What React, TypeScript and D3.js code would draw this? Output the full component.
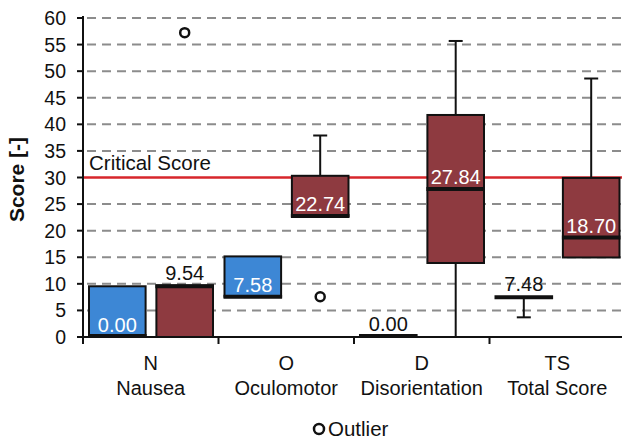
import React from "react";
import * as d3 from "d3";

const categories = ["N", "O", "D", "TS"];
const categoryNames = ["Nausea", "Oculomotor", "Disorientation", "Total Score"];
const groups = ["g1", "g2"];
const groupColors = ["#3d87d5", "#8e3a40"];

// group 1 (blue)
const g1Q1 = [0, 7.58, 0, 7.48];
const g1Median = [0, 7.58, 0, 7.48];
const g1Q3 = [9.54, 15.16, 0, 7.48];
const g1WhiskerLow = [0, 7.58, 0, 3.7];
const g1WhiskerHigh = [9.54, 15.16, 0, 7.48];
const g1Outliers: number[][] = [[], [], [], []];

// group 2 (red)
const g2Q1 = [0, 22.74, 13.92, 14.96];
const g2Median = [9.54, 22.74, 27.84, 18.7];
const g2Q3 = [9.7, 30.32, 41.76, 29.92];
const g2WhiskerLow = [0, 22.74, 0, 14.96];
const g2WhiskerHigh = [9.7, 37.9, 55.68, 48.62];
const g2Outliers: number[][] = [[57.24], [7.58], [], []];

const yTicks = [0, 5, 10, 15, 20, 25, 30, 35, 40, 45, 50, 55, 60];
const criticalScore = 30;

const W = 622;
const H = 439;
const left = 83;
const right = 625;
const top = 18;
const bottom = 337;
const FONT = "Arial, 'Liberation Sans', Helvetica, sans-serif";

export default function App() {
  const y = d3.scaleLinear().domain([0, 60]).range([bottom, top]);
  const x = d3.scaleBand<string>().domain(categories).range([left, right]).padding(0);
  const sub = d3
    .scaleBand<string>()
    .domain(groups)
    .range([6, x.bandwidth() - 5.5])
    .paddingInner(0.16)
    .paddingOuter(0);
  const bw = sub.bandwidth();

  const series = [
    { q1: g1Q1, med: g1Median, q3: g1Q3, wl: g1WhiskerLow, wh: g1WhiskerHigh, out: g1Outliers },
    { q1: g2Q1, med: g2Median, q3: g2Q3, wl: g2WhiskerLow, wh: g2WhiskerHigh, out: g2Outliers },
  ];

  const boxes: React.ReactNode[] = [];
  const labels: React.ReactNode[] = [];
  series.forEach((s, gi) => {
    categories.forEach((c, ci) => {
      const x0 = (x(c) as number) + (sub(groups[gi]) as number);
      const cx = x0 + bw / 2;
      const q1 = s.q1[ci], q3 = s.q3[ci], med = s.med[ci];
      const wl = s.wl[ci], wh = s.wh[ci];
      const key = `${gi}-${ci}`;
      const capW = 14;
      if (wh > q3) {
        boxes.push(
          <g key={key + "wh"}>
            <line x1={cx} x2={cx} y1={y(q3)} y2={y(wh)} stroke="#111" strokeWidth={2} />
            <line x1={cx - capW / 2} x2={cx + capW / 2} y1={y(wh)} y2={y(wh)} stroke="#111" strokeWidth={2} />
          </g>
        );
      }
      if (wl < q1) {
        const hasCap = wl > 0;
        boxes.push(
          <g key={key + "wl"}>
            <line x1={cx} x2={cx} y1={y(q1)} y2={y(wl)} stroke="#111" strokeWidth={2} />
            {hasCap && (
              <line x1={cx - capW / 2} x2={cx + capW / 2} y1={y(wl)} y2={y(wl)} stroke="#111" strokeWidth={2} />
            )}
          </g>
        );
      }
      if (q3 > q1) {
        boxes.push(
          <rect
            key={key + "box"}
            x={x0}
            y={y(q3)}
            width={bw}
            height={y(q1) - y(q3)}
            fill={groupColors[gi]}
            stroke="#111"
            strokeWidth={2}
          />
        );
      }
      boxes.push(
        <line
          key={key + "med"}
          x1={x0 - 1}
          x2={x0 + bw + 1}
          y1={y(med) - (med === 0 ? 1 : 0)}
          y2={y(med) - (med === 0 ? 1 : 0)}
          stroke="#111"
          strokeWidth={4}
        />
      );
      s.out[ci].forEach((o, oi) => {
        boxes.push(
          <circle key={key + "o" + oi} cx={cx} cy={y(o)} r={4.5} fill="#fff" stroke="#111" strokeWidth={2.5} />
        );
      });
      const inside = q3 - med > 3;
      labels.push(
        <text
          key={key + "lab"}
          x={cx}
          y={y(med) - (inside ? 5 : 6)}
          textAnchor="middle"
          fontSize={20}
          fontFamily={FONT}
          fill={inside ? "#ffffff" : "#111"}
        >
          {med.toFixed(2)}
        </text>
      );
    });
  });

  return (
    <svg
      width={W}
      height={H}
      style={{ position: "absolute", left: 0, top: 0, background: "#fff" }}
      fontFamily={FONT}
    >
      <rect x={0} y={0} width={W} height={H} fill="#fff" />
      {yTicks
        .filter((t) => t > 0 && t !== criticalScore)
        .map((t) => (
          <line
            key={"g" + t}
            x1={left + 4}
            x2={right}
            y1={y(t)}
            y2={y(t)}
            stroke="#8c8c8c"
            strokeWidth={2}
            strokeDasharray="9,6"
          />
        ))}
      <line x1={left} x2={right} y1={y(criticalScore)} y2={y(criticalScore)} stroke="#d7262b" strokeWidth={2.5} />
      <text x={89} y={y(criticalScore) - 8} fontSize={20.5} fill="#111">
        Critical Score
      </text>
      {boxes}
      {labels}
      <line x1={left} x2={left} y1={top - 2} y2={bottom + 1} stroke="#111" strokeWidth={2} />
      <line x1={left - 1} x2={right} y1={bottom} y2={bottom} stroke="#111" strokeWidth={2} />
      {yTicks.map((t) => (
        <g key={"t" + t}>
          <line x1={left - 6} x2={left} y1={y(t)} y2={y(t)} stroke="#111" strokeWidth={2} />
          <text x={66} y={y(t)} dy="0.36em" textAnchor="end" fontSize={19.5} fill="#111">
            {t}
          </text>
        </g>
      ))}
      {categories.map((c) => (
        <line
          key={"xt" + c}
          x1={x(c) as number}
          x2={x(c) as number}
          y1={bottom}
          y2={bottom + 7}
          stroke="#111"
          strokeWidth={2}
        />
      ))}
      {categories.map((c, i) => {
        const cx = (x(c) as number) + x.bandwidth() / 2;
        return (
          <g key={"xl" + c}>
            <text x={cx} y={370} textAnchor="middle" fontSize={20} fill="#111">
              {c}
            </text>
            <text x={cx} y={395} textAnchor="middle" fontSize={20} fill="#111">
              {categoryNames[i]}
            </text>
          </g>
        );
      })}
      <text
        transform={`translate(24, ${(top + bottom) / 2 + 2}) rotate(-90)`}
        textAnchor="middle"
        fontSize={21}
        fontWeight="bold"
        fill="#111"
      >
        Score [-]
      </text>
      <circle cx={319} cy={429} r={5} fill="#fff" stroke="#111" strokeWidth={2.5} />
      <text x={328} y={436} fontSize={20.5} fill="#111">
        Outlier
      </text>
    </svg>
  );
}
